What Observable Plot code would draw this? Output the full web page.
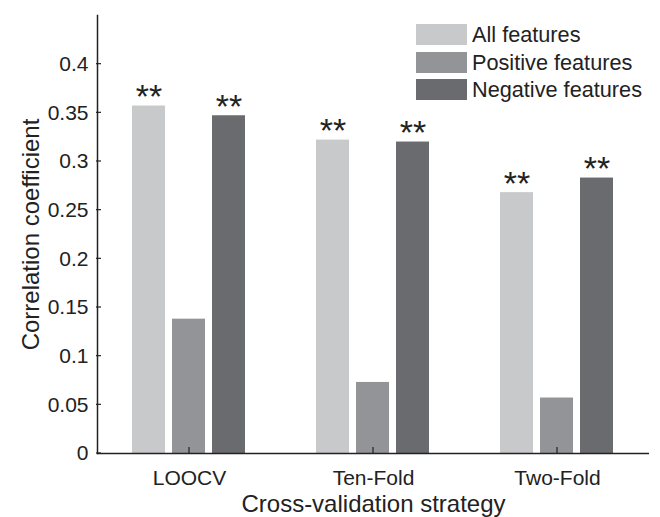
<!DOCTYPE html>
<html>
<head>
<meta charset="utf-8">
<script src="https://cdn.jsdelivr.net/npm/d3@7"></script>
<script src="https://cdn.jsdelivr.net/npm/@observablehq/plot@0.6"></script>
<style>
  body { margin: 0; background: #fff; }
  #wrap { position: relative; width: 660px; height: 517px; font-family: "Liberation Sans", Arial, sans-serif; color: #222; }
  #legend { position: absolute; left: 416px; top: 21px; }
  .row { display: flex; align-items: center; height: 27.5px; }
  .sw { width: 51px; height: 21px; margin-right: 5px; }
  .lab { font-size: 21.7px; line-height: 21px; color: #222; }
</style>
</head>
<body>
<div id="wrap"><div id="legend"></div></div>
<script>
const groups = ["LOOCV", "Ten-Fold", "Two-Fold"];
const series = ["All features", "Positive features", "Negative features"];
const seriesColors = ["#c8c9cb", "#939498", "#6a6b6f"];
const allFeatures = [0.357, 0.322, 0.268];
const positiveFeatures = [0.138, 0.073, 0.057];
const negativeFeatures = [0.347, 0.320, 0.283];
const sigAll = ["**", "**", "**"];
const sigPositive = ["", "", ""];
const sigNegative = ["**", "**", "**"];
const yTicks = [0, 0.05, 0.1, 0.15, 0.2, 0.25, 0.3, 0.35, 0.4];
const yTickLabels = ["0", "0.05", "0.1", "0.15", "0.2", "0.25", "0.3", "0.35", "0.4"];

const valuesBySeries = [allFeatures, positiveFeatures, negativeFeatures];
const sigBySeries = [sigAll, sigPositive, sigNegative];
const data = [];
groups.forEach((g, i) => series.forEach((s, j) => {
  data.push({group: g, series: s, value: valuesBySeries[j][i], sig: sigBySeries[j][i]});
}));

const ink = "#222";
const tick = 5;
const plot = Plot.plot({
  width: 660,
  height: 517,
  marginLeft: 96,
  marginRight: 10,
  marginTop: 15,
  marginBottom: 64,
  style: {fontFamily: "'Liberation Sans', Arial, sans-serif", fontSize: "21px", color: ink, background: "transparent"},
  fx: {domain: groups, padding: 0},
  x: {domain: series, paddingInner: 0.17, paddingOuter: 0.84, axis: null},
  y: {domain: [0, 0.45]},
  color: {domain: series, range: seriesColors},
  marks: [
    Plot.barY(data, {fx: "group", x: "series", y: "value", fill: "series"}),
    Plot.text(data.filter(d => d.sig), {fx: "group", x: "series", y: "value", text: "sig", fontSize: 34, lineAnchor: "bottom", dy: 2, fill: ink}),
    Plot.ruleY([0], {stroke: ink, strokeWidth: 1.5}),
    Plot.frame({anchor: "left", facetAnchor: "left", stroke: ink, strokeWidth: 1.5}),
    Plot.axisY({ticks: yTicks, tickFormat: d => yTickLabels[yTicks.indexOf(d)] ?? "", tickSize: 0, tickPadding: 9, fontSize: 21,
      label: "Correlation coefficient", labelAnchor: "center", labelOffset: 76, labelArrow: "none"}),
    Plot.axisFx({anchor: "bottom", tickSize: 0, tickPadding: 17, fontSize: 21,
      label: "Cross-validation strategy", labelAnchor: "center", labelOffset: 58, labelArrow: "none"})
  ]
});
plot.querySelectorAll("g[aria-label='fx-axis label'] text, g[aria-label='y-axis label'] text").forEach(t => t.setAttribute("font-size", "24"));

// inward tick marks, positioned with the plot's own scales
const sy = plot.scale("y");
const sfx = plot.scale("fx");
const left = sfx.range ? Math.min(...sfx.range) : 96;
const bottom = sy.apply(0);
const tg = d3.select(plot).append("g").attr("stroke", ink).attr("stroke-width", 1.2).attr("aria-label", "inward ticks");
yTicks.forEach(v => {
  const y = sy.apply(v);
  tg.append("line").attr("x1", left).attr("x2", left + tick).attr("y1", y).attr("y2", y);
});
groups.forEach(g => {
  const x = sfx.apply(g) + sfx.bandwidth / 2;
  tg.append("line").attr("x1", x).attr("x2", x).attr("y1", bottom).attr("y2", bottom - tick - 1);
});
document.getElementById("wrap").prepend(plot);

const legend = document.getElementById("legend");
series.forEach((s, j) => {
  const row = document.createElement("div");
  row.className = "row";
  const sw = document.createElement("div");
  sw.className = "sw";
  sw.style.background = seriesColors[j];
  const lab = document.createElement("span");
  lab.className = "lab";
  lab.textContent = s;
  row.append(sw, lab);
  legend.append(row);
});
</script>
</body>
</html>
